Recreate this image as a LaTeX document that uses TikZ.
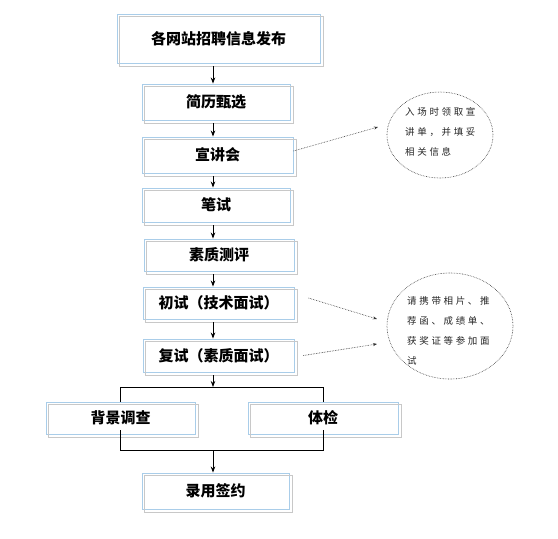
\documentclass[tikz,border=0pt]{standalone}
\usepackage{fontspec}
\newfontfamily\cjk{Noto Sans CJK SC}
\newfontfamily\cjksp[LetterSpace=28]{Noto Sans CJK SC}
\usetikzlibrary{arrows.meta,shapes.geometric,calc}
\definecolor{boxblue}{HTML}{A9CDE9}
\definecolor{boxgray}{HTML}{C8C8C8}
\tikzset{
  stepbox/.style={draw=boxblue, line width=0.9pt, inner sep=0pt, font=\cjk\bfseries\fontsize{15}{17}\selectfont},
  shadowbox/.style={draw=boxgray, line width=0.9pt},
  arr/.style={draw=black, line width=0.8pt, -{Stealth[length=6pt,width=4.5pt]}},
  ln/.style={draw=black, line width=0.8pt},
  darr/.style={draw=black!80, line width=0.6pt, dash pattern=on 0.6pt off 1pt, -{Stealth[length=4pt,width=3pt,sep=0pt]}},
  bubble/.style={ellipse, draw=black!80, line width=0.6pt, dash pattern=on 0.6pt off 1pt, inner sep=0pt},
  etext/.style={font=\cjksp\fontsize{9.5}{19.8}\selectfont, align=left, inner sep=0pt, anchor=west, text=black!85}
}
\begin{document}
\begin{tikzpicture}[x=1pt,y=-1pt]
\useasboundingbox (0,0) rectangle (558,539);
\fill[white] (0,0) rectangle (558,539);
\node[stepbox, minimum width=203pt, minimum height=49pt] (b1) at (218.5,38.5) {各网站招聘信息发布};
\node[stepbox, minimum width=148pt, minimum height=36pt] (b2) at (216,102) {简历甄选};
\node[stepbox, minimum width=151pt, minimum height=36pt] (b3) at (217.5,155) {宣讲会};
\node[stepbox, minimum width=148pt, minimum height=34pt] (b4) at (216,205) {笔试};
\node[stepbox, minimum width=150pt, minimum height=32pt] (b5) at (219,255) {素质测评};
\node[stepbox, minimum width=151pt, minimum height=32pt] (b6) at (218.5,303) {初试（技术面试）};
\node[stepbox, minimum width=151pt, minimum height=33pt] (b7) at (218.5,355.5) {复试（素质面试）};
\node[stepbox, minimum width=149pt, minimum height=32pt] (b8) at (120.5,418) {背景调查};
\node[stepbox, minimum width=150pt, minimum height=32pt] (b9) at (323,418) {体检};
\node[stepbox, minimum width=147pt, minimum height=36pt] (b10) at (215.5,491) {录用签约};
\foreach \b in {b1,b2,b3,b4,b5,b6,b7,b8,b9,b10}{
  \draw[shadowbox] ([shift={(3,3)}]\b.south west) rectangle ([shift={(3,3)}]\b.north east);
}
\coordinate (ax) at (213,0);
\draw[arr] (b1.south -| ax) ++(0,3) -- (b2.north -| ax);
\draw[arr] (b2.south -| ax) ++(0,3) -- (b3.north -| ax);
\draw[arr] (b3.south -| ax) ++(0,3) -- (b4.north -| ax);
\draw[arr] (b4.south -| ax) ++(0,3) -- (b5.north -| ax);
\draw[arr] (b5.south -| ax) ++(0,3) -- (b6.north -| ax);
\draw[arr] (b6.south -| ax) ++(0,3) -- (b7.north -| ax);
% split
\coordinate (sp) at (213,387);
\coordinate (jn) at (213,450);
\draw[arr] (b7.south -| ax) ++(0,3) -- (sp);
\draw[ln] (b8.north) -- (b8.north |- sp) -- (b9.north |- sp) -- (b9.north);
\draw[ln] ([yshift=4]b8.south) -- (b8.south |- jn) -- (b9.south |- jn) -- ([yshift=4]b9.south);
\draw[arr] (jn) -- (b10.north -| ax);
% bubbles
\node[bubble, minimum width=106pt, minimum height=86pt] (e1) at (440,135) {};
\node[bubble, minimum width=126pt, minimum height=106pt] (e2) at (450,326) {};
\node[etext] (t1) at (405,132) {入场时领取宣\\讲单，并填妥\\相关信息};
\node[etext] (t2) at (407,331) {请携带相片、推\\荐函、成绩单、\\获奖证等参加面\\试};
\coordinate (e1in) at (378,127);
\coordinate (e2ina) at (377,319);
\coordinate (e2inb) at (377,344);
\draw[darr] ($(b3.east)+(0,-4)$) -- (e1in);
\draw[darr] ($(b6.east)+(14,-5)$) -- (e2ina);
\draw[darr] ($(b7.east)+(9,0)$) -- (e2inb);
\end{tikzpicture}
\end{document}
